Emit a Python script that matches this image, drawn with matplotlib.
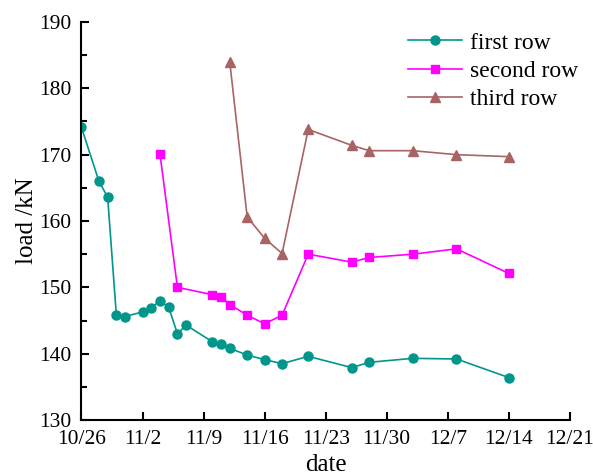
import datetime as dt
import matplotlib
matplotlib.use('Agg')
import matplotlib.pyplot as plt
from matplotlib.ticker import MultipleLocator

# 読み取ったデータ (日付 / 荷重 kN)
first_dates = ['10/26', '10/28', '10/29', '10/30', '10/31', '11/2', '11/3', '11/4', '11/5',
               '11/6', '11/7', '11/10', '11/11', '11/12', '11/14', '11/16', '11/18', '11/21',
               '11/26', '11/28', '12/3', '12/8', '12/14']
first_load = [174.1, 166.0, 163.6, 145.8, 145.6, 146.3, 146.9, 148.0, 147.0,
              143.0, 144.3, 141.8, 141.5, 140.8, 139.8, 139.1, 138.5, 139.6,
              137.9, 138.7, 139.3, 139.2, 136.4]

second_dates = ['11/4', '11/6', '11/10', '11/11', '11/12', '11/14', '11/16', '11/18',
                '11/21', '11/26', '11/28', '12/3', '12/8', '12/14']
second_load = [170.1, 150.0, 148.9, 148.5, 147.4, 145.8, 144.5, 145.8,
               155.0, 153.8, 154.5, 155.0, 155.8, 152.1]

third_dates = ['11/12', '11/14', '11/16', '11/18', '11/21', '11/26', '11/28', '12/3',
               '12/8', '12/14']
third_load = [184.0, 160.6, 157.4, 155.1, 173.8, 171.4, 170.6, 170.6, 170.0, 169.7]

tick_labels = ['10/26', '11/2', '11/9', '11/16', '11/23', '11/30', '12/7', '12/14', '12/21']

YEAR = 2020


def to_date(s):
    m, d = s.split('/')
    return dt.datetime(YEAR, int(m), int(d))


plt.rcParams['font.family'] = 'serif'
plt.rcParams['font.serif'] = ['Liberation Serif', 'Times New Roman', 'Nimbus Roman', 'DejaVu Serif']
plt.rcParams['font.size'] = 15.5

teal = '#00968C'
magenta = '#FF00FF'
brown = '#A86464'

fig = plt.figure(figsize=(5.93, 4.76), dpi=100)
ax = fig.add_axes([0.1374, 0.1176, 0.8236, 0.8362])

ax.plot([to_date(s) for s in first_dates], first_load, color=teal, lw=1.2,
        marker='o', ms=6.5, label='first row')
ax.plot([to_date(s) for s in second_dates], second_load, color=magenta, lw=1.2,
        marker='s', ms=5.5, label='second row')
ax.plot([to_date(s) for s in third_dates], third_load, color=brown, lw=1.2,
        marker='^', ms=6.5, label='third row')

tick_dates = [to_date(s) for s in tick_labels]
ax.set_xlim(tick_dates[0], tick_dates[-1])
ax.set_xticks(tick_dates)
ax.set_xticklabels(tick_labels)
ax.set_ylim(130, 190)
ax.yaxis.set_major_locator(MultipleLocator(10))
ax.yaxis.set_minor_locator(MultipleLocator(5))

# 枠線は左と下のみ
ax.spines['top'].set_visible(False)
ax.spines['right'].set_visible(False)
ax.spines['left'].set_linewidth(1.5)
ax.spines['bottom'].set_linewidth(1.5)
ax.tick_params(which='major', direction='in', length=6, width=1.5)
ax.tick_params(axis='x', pad=7)
ax.tick_params(axis='y', pad=7)
ax.tick_params(axis='y', which='minor', direction='in', length=4, width=1.5)

ax.set_xlabel('date', fontsize=18, labelpad=4)
ax.set_ylabel('load /kN', fontsize=18, labelpad=1)

ax.legend(loc='upper right', bbox_to_anchor=(1.045, 1.01), frameon=False, fontsize=17,
          handlelength=2.3, handletextpad=0.3, labelspacing=0.29, borderaxespad=0.2)

fig.savefig('out.png', dpi=100)
